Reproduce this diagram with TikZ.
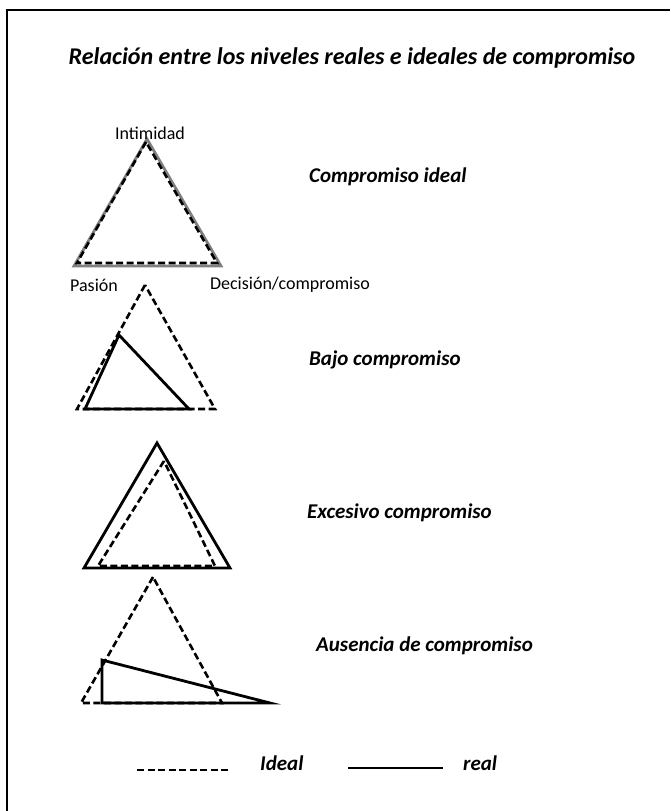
\documentclass[tikz,border=0pt]{standalone}
\usepackage{fontspec}
\setmainfont{Carlito}
\usepackage{tikz}
\usetikzlibrary{positioning}

\begin{document}
\begin{tikzpicture}[x=1pt, y=-1pt,
  ideal/.style={line width=2.6pt, dash pattern=on 7pt off 3.5pt},
  real/.style={line width=2.8pt},
  caso/.style={font=\fontsize{21}{25}\selectfont\bfseries\itshape, anchor=west, inner sep=0pt},
  vertice/.style={font=\fontsize{18}{21}\selectfont, inner sep=0pt}]
\useasboundingbox (0,0) rectangle (670,811);
\draw[line width=1.8pt] (7,811) -- (7,10) -- (670,10);
\node[caso, anchor=center, font=\fontsize{24}{28}\selectfont\bfseries\itshape] (titulo) at (352,58) {Relación entre los niveles reales e ideales de compromiso};

% compromiso ideal
\coordinate (i1) at (147,139); \coordinate (p1) at (74,266); \coordinate (d1) at (221,266);
\draw[real, gray] (i1) -- (p1) -- (d1) -- cycle;
\draw[ideal] (146,142) -- (77,263) -- (217,263) -- cycle;
\node[vertice] (intimidad) at (150,133) {Intimidad};
\node[vertice] (pasion) at (94,285) {Pasión};
\node[vertice] (decision) at (290,285) {Decisión/compromiso};
\node[caso] (ideal1) at (309,177) {Compromiso ideal};

% bajo compromiso
\coordinate (i2) at (145,285); \coordinate (p2) at (77,409); \coordinate (d2) at (215,409);
\draw[ideal] (i2) -- (p2) -- (d2) -- cycle;
\draw[real] (119,335) -- (85,409) -- (189,409) -- cycle;
\node[caso] (bajo) at (309,360) {Bajo compromiso};

% excesivo compromiso
\coordinate (i3) at (157,443); \coordinate (p3) at (84,568); \coordinate (d3) at (230,568);
\draw[real] (i3) -- (p3) -- (d3) -- cycle;
\draw[ideal] (164,461) -- (98,566) -- (215,566) -- cycle;
\node[caso] (excesivo) at (307,513) {Excesivo compromiso};

% ausencia de compromiso
\coordinate (i4) at (153,577); \coordinate (p4) at (81,703); \coordinate (d4) at (222,703);
\draw[ideal] (i4) -- (p4) -- (d4) -- cycle;
\draw[real] (102,660) -- (102,703) -- (270,703) -- cycle;
\node[caso] (ausencia) at (316,646) {Ausencia de compromiso};

% leyenda
\coordinate (li1) at (137,770); \coordinate (li2) at (228,770);
\draw[ideal] (li1) -- (li2);
\node[caso] (lideal) at (260,763) {Ideal};
\coordinate (lr1) at (348,768); \coordinate (lr2) at (443,768);
\draw[line width=1.8pt] (lr1) -- (lr2);
\node[caso] (lreal) at (463,763) {real};
\end{tikzpicture}
\end{document}
